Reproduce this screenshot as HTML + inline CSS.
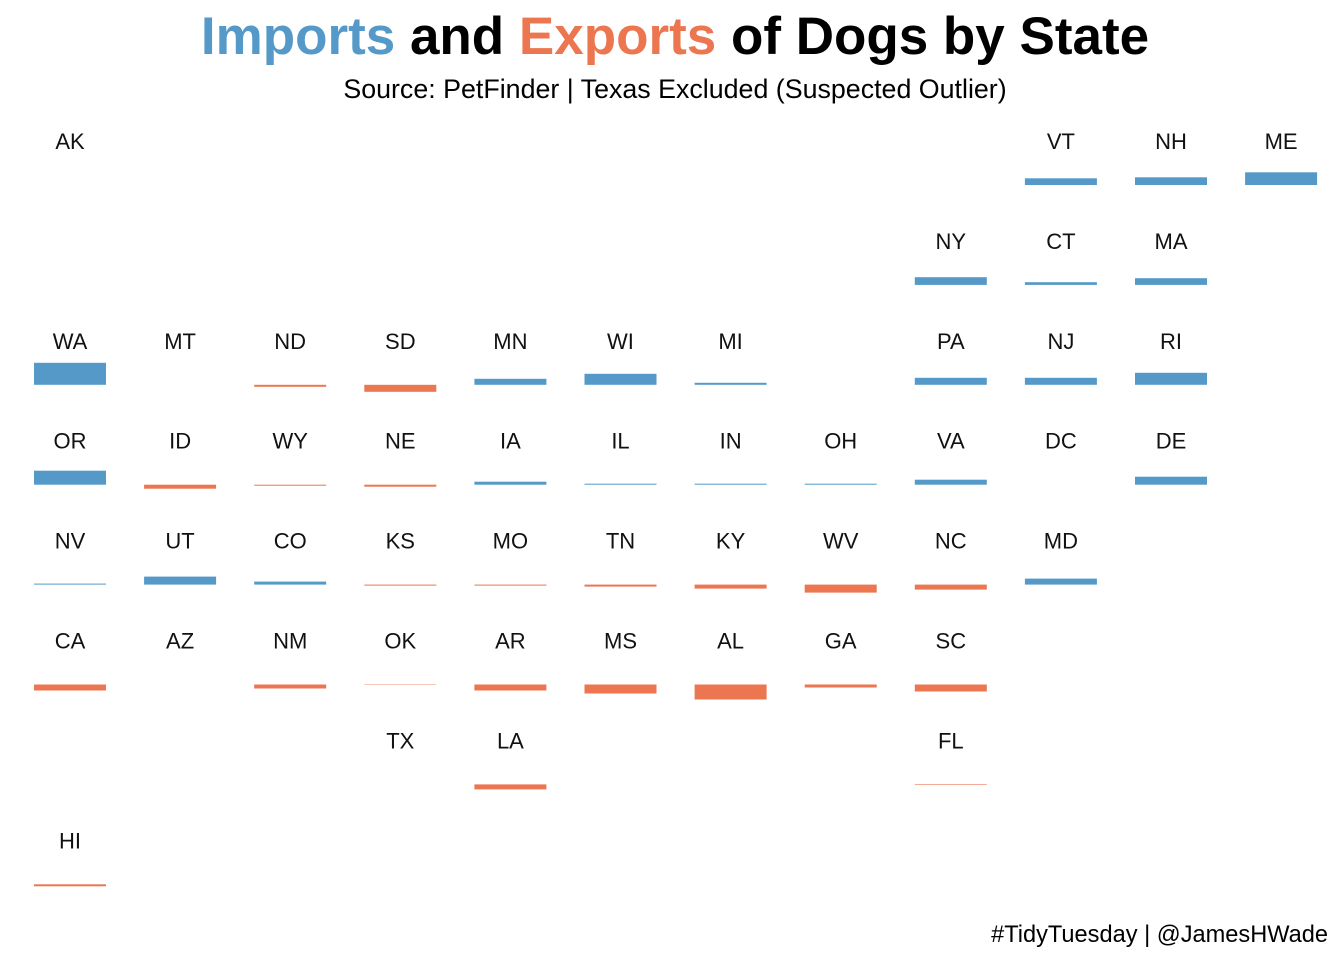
<!DOCTYPE html>
<html><head><meta charset="utf-8"><style>
body{margin:0;background:#fff;font-family:"Liberation Sans",sans-serif}
#wrap{position:relative;width:1344px;height:960px;overflow:hidden}
</style></head><body>
<div id="wrap">
<svg id="chart" width="1344" height="960">
<text x="675" y="54" text-anchor="middle" font-size="53" font-weight="bold"><tspan fill="#5499C7">Imports</tspan><tspan fill="#000"> and </tspan><tspan fill="#EB7650">Exports</tspan><tspan fill="#000"> of Dogs by State</tspan></text>
<text x="675" y="98" text-anchor="middle" font-size="26.8" fill="#000">Source: PetFinder | Texas Excluded (Suspected Outlier)</text>
<text x="1328" y="942" text-anchor="end" font-size="23.6" fill="#000">#TidyTuesday | @JamesHWade</text>
<g id="marks"></g>
</svg>
</div>
<script>
const states = ["AK","VT","NH","ME","NY","CT","MA","WA","MT","ND","SD","MN","WI","MI","PA","NJ","RI","OR","ID","WY","NE","IA","IL","IN","OH","VA","DC","DE","NV","UT","CO","KS","MO","TN","KY","WV","NC","MD","CA","AZ","NM","OK","AR","MS","AL","GA","SC","TX","LA","FL","HI"];
const gridCol = [0,9,10,11,8,9,10,0,1,2,3,4,5,6,8,9,10,0,1,2,3,4,5,6,7,8,9,10,0,1,2,3,4,5,6,7,8,9,0,1,2,3,4,5,6,7,8,3,4,8,0];
const gridRow = [0,0,0,0,1,1,1,2,2,2,2,2,2,2,2,2,2,3,3,3,3,3,3,3,3,3,3,3,4,4,4,4,4,4,4,4,4,4,5,5,5,5,5,5,5,5,5,6,6,6,7];
const netFlow = [0,67,77,127,77,27,67,220,0,-20,-70,60,110,20,70,70,120,140,-40,-10,-20,30,10,10,10,50,0,80,10,80,30,-10,-10,-20,-40,-80,-50,60,-60,0,-40,-4,-60,-90,-150,-30,-70,0,-50,-6,-20];
const x0=70, dx=110.1, y0=141, dy=99.9, bw=72, k=0.1;
const xPos=c=>x0+c*dx, yPos=r=>y0+r*dy, hScale=v=>Math.abs(v)*k;
const g=document.getElementById('marks');
const NS='http://www.w3.org/2000/svg';
states.forEach((s,i)=>{
  const cx=xPos(gridCol[i]), ly=yPos(gridRow[i]);
  const t=document.createElementNS(NS,'text');
  t.setAttribute('x',cx);t.setAttribute('y',ly+8);t.setAttribute('text-anchor','middle');
  t.setAttribute('font-size','22');t.setAttribute('fill','#111');t.textContent=s;
  
  
  g.appendChild(t);
  const v=netFlow[i];
  if(v!==0){
    const base=ly+44, h=hScale(v);
    const r=document.createElementNS(NS,'rect');
    r.setAttribute('x',cx-bw/2);r.setAttribute('width',bw);
    r.setAttribute('y',v>0?base-h:base);r.setAttribute('height',h);
    r.setAttribute('fill',v>0?'#5499C7':'#EB7650');
    
    
    g.appendChild(r);
  }
});
</script>
</body></html>
